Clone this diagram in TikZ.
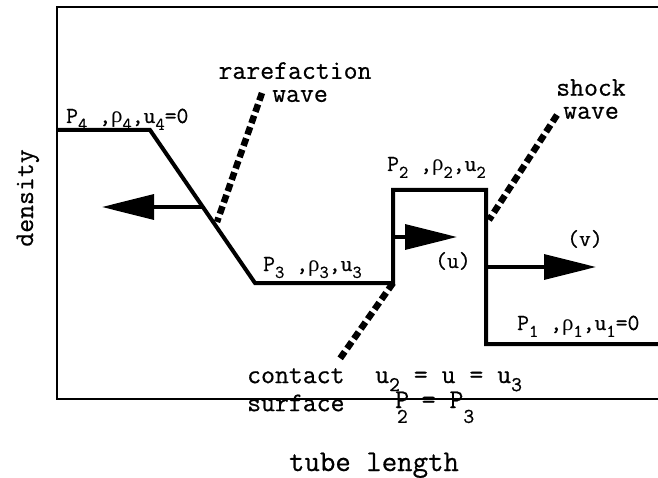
\documentclass[tikz,border=0pt]{standalone}
\usepackage{fontspec}
\setmonofont{Latin Modern Mono}[FakeBold=0.6]
\newfontfamily\grk{Liberation Serif}
\usetikzlibrary{arrows.meta}

\newcommand{\sub}[2][18]{\raisebox{-0.3em}{\fontsize{#1}{#1}\selectfont #2}}
\newcommand{\rh}{{\grk ρ}}

\tikzset{
    frame/.style={line width=2.2pt},
    curve/.style={line width=4pt, line join=miter},
    flow/.style={line width=3.4pt, -{Triangle[length=52pt,width=25pt]}},
    marker/.style={line width=6.5pt, dash pattern=on 8pt off 4pt},
    word/.style={font=\ttfamily\fontsize{27}{23}\selectfont, inner sep=0pt},
    state/.style={font=\ttfamily\fontsize{23}{23}\selectfont, inner sep=0pt},
}

\begin{document}
\begin{tikzpicture}[x=1pt,y=-1pt]
    \useasboundingbox (0,0) rectangle (658,478);

    % Frame of the plot
    \draw[frame] (658,7) -- (57,7) -- (57,399) -- (658,399);

    % Density profile
    \coordinate (d4) at (57,130);
    \coordinate (rtop) at (150,130);
    \coordinate (rbot) at (255,283);
    \coordinate (cbot) at (393,283);
    \coordinate (ctop) at (393,190);
    \coordinate (stop) at (486,190);
    \coordinate (sbot) at (486,344);
    \coordinate (d1) at (658,344);
    \draw[curve] (d4) -- (rtop) -- (rbot) -- (cbot) -- (ctop) -- (stop) -- (sbot) -- (d1);

    % Velocity arrows
    \coordinate (rfan) at (203,207);
    \coordinate (rtip) at (102,207);
    \coordinate (cmid) at (393,237);
    \coordinate (utip) at (457,237);
    \coordinate (smid) at (486,267);
    \coordinate (vtip) at (596,267);
    \draw[flow] (rfan) -- (rtip);
    \draw[flow] (cmid) -- (utip);
    \draw[flow] (smid) -- (vtip);

    % Wave markers
    \coordinate (rw) at (262,93);
    \coordinate (rwend) at (217,222);
    \coordinate (sw) at (557,115);
    \coordinate (swend) at (489,220);
    \coordinate (cs) at (339,360);
    \draw[marker] (rw) -- (rwend);
    \draw[marker] (sw) -- (swend);
    \draw[marker] (cbot) -- (cs);

    % Wave names
    \node[word, align=center, anchor=north] (rare) at (295,62) {rarefaction\\\hspace*{10pt}wave};
    \node[word, align=center, anchor=north] (shock) at (591,79) {shock\\wave};
    \node[word, align=left, anchor=north west] (contact) at (247,368) {contact\\[5pt]surface};

    % States
    \node[state, anchor=base west] (s4) at (66,123) {P\sub{4} ,\rh\sub{4},u\sub{4}=0};
    \node[state, anchor=base west] (s3) at (263,271) {P\sub{3} ,\rh\sub{3},u\sub{3}};
    \node[state, anchor=base west] (s2) at (387,171) {P\sub{2} ,\rh\sub{2},u\sub{2}};
    \node[state, anchor=base west] (s1) at (517,330) {P\sub{1} ,\rh\sub{1},u\sub{1}=0};
    \node[state, anchor=base west] (u) at (435,268) {(u)};
    \node[state, anchor=base west] (v) at (567,246) {(v)};

    % Contact conditions
    \node[word, anchor=base west] (eqa) at (375,383) {u\sub[21]{2} = u = u\sub[21]{3}};
    \node[word, anchor=base west] (eqb) at (395,408)
        {P\kern-0.45em\raisebox{-0.55em}{\fontsize{21}{21}\selectfont 2} = P\raisebox{-0.55em}{\fontsize{21}{21}\selectfont 3}};

    % Axis names
    \node[word, rotate=90, anchor=base] (dens) at (33,198) {density};
    \node[word, font=\ttfamily\fontsize{30}{30}\selectfont, anchor=base] (tube) at (374,471) {tube length};
\end{tikzpicture}
\end{document}
